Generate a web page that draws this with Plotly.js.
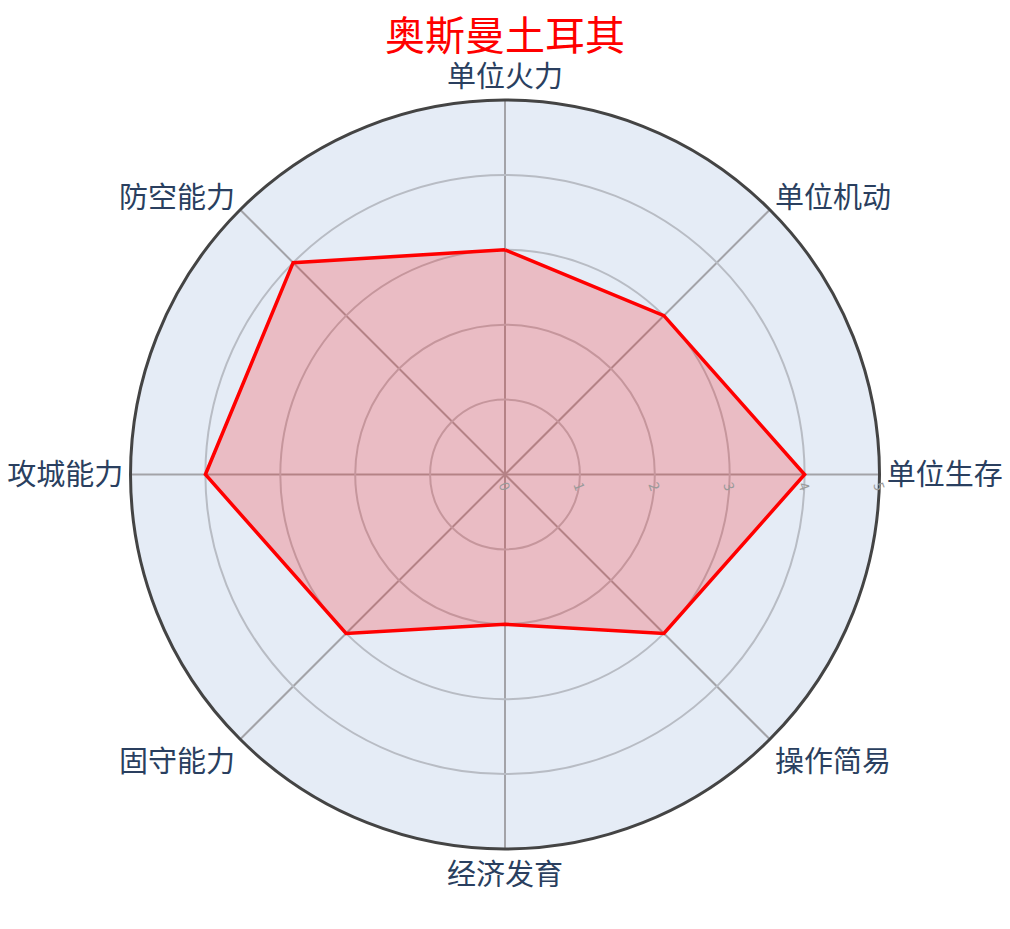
<!DOCTYPE html>
<html>
<head>
<meta charset="utf-8">
<script src="https://cdn.plot.ly/plotly-3.0.1.min.js"></script>
<style>body{margin:0;padding:0;}#chart{width:1010px;height:929px;}</style>
</head>
<body>
<div id="chart"></div>
<script>
var categories = ['单位火力', '单位机动', '单位生存', '操作简易', '经济发育', '固守能力', '攻城能力', '防空能力'];
var values = [3, 3, 4, 3, 2, 3, 4, 4];
var titleText = '奥斯曼土耳其';

var theta = categories.concat([categories[0]]);
var r = values.concat([values[0]]);

var trace = {
  type: 'scatterpolar',
  r: r,
  theta: theta,
  mode: 'lines',
  fill: 'toself',
  fillcolor: 'rgba(255,0,0,0.2)',
  line: {color: 'red', width: 3.5},
  hoverinfo: 'skip'
};

var layout = {
  width: 1010,
  height: 929,
  font: {family: '"Noto Sans CJK SC", "Noto Sans", sans-serif', color: '#2a3f5f'},
  title: {text: titleText, font: {size: 40, color: 'red'}, x: 0.5, xanchor: 'center'},
  showlegend: false,
  paper_bgcolor: 'white',
  margin: {l: 80, r: 80, t: 100, b: 80},
  polar: {
    bgcolor: '#E5ECF6',
    angularaxis: {
      direction: 'clockwise',
      rotation: 90,
      gridcolor: '#a3a3a8',
      gridwidth: 2,
      linecolor: '#444444',
      linewidth: 3,
      showline: true,
      ticks: '',
      tickfont: {size: 29, color: '#2a3f5f'}
    },
    radialaxis: {
      range: [0, 5],
      dtick: 1,
      angle: 0,
      tickangle: 70,
      gridcolor: '#b8bcc4',
      gridwidth: 2,
      showline: false,
      ticks: '',
      tickfont: {size: 14, color: '#9a9a9a'}
    }
  }
};

Plotly.newPlot('chart', [trace], layout, {displayModeBar: false});
</script>
</body>
</html>
